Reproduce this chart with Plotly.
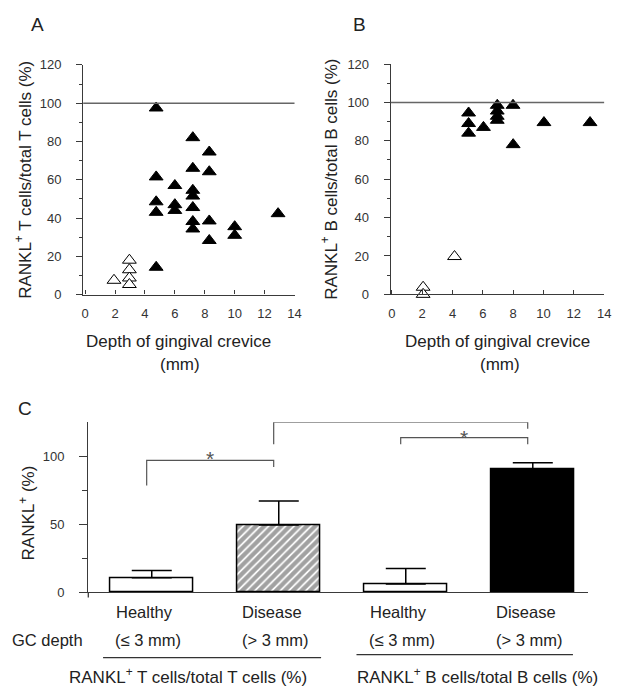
import plotly.graph_objects as go

W, H = 619, 694
FONT = "Liberation Sans, Arial, sans-serif"

# ---------------- data ----------------
# Panel A: RANKL+ T cells / total T cells (%) vs depth of gingival crevice (mm)
a_fill_x = [4.75, 4.75, 4.75, 4.75, 4.75, 6.0, 6.0, 6.0, 7.2, 7.2, 7.2, 7.2, 7.2, 7.2, 7.2,
            8.3, 8.3, 8.3, 8.3, 10.0, 10.0, 12.9]
a_fill_y = [97.5, 61.5, 48.5, 43, 14.3, 57, 47, 44, 82, 66, 54.5, 51.5, 45.5, 38.2, 34.3,
            74.5, 64.2, 38.5, 28.3, 35.5, 31, 42.3]
a_open_x = [1.93, 2.96, 2.96, 2.96, 2.96]
a_open_y = [7.5, 18, 13, 8.7, 5.3]

# Panel B: RANKL+ B cells / total B cells (%)
b_fill_x = [5.06, 5.06, 5.06, 6.04, 6.95, 6.95, 6.95, 6.95, 7.99, 8.0, 10.03, 13.07]
b_fill_y = [94.5, 89, 84, 87, 98.5, 95.5, 92.8, 90.7, 98.5, 78, 89.5, 89.5]
b_open_x = [4.13, 2.06, 2.06]
b_open_y = [19.7, 3.7, 0]

# Panel C: bar chart
c_groups = ["Healthy", "Disease", "Healthy", "Disease"]
c_depth = ["(≤ 3 mm)", "(> 3 mm)", "(≤ 3 mm)", "(> 3 mm)"]
c_values = [10.8, 49.5, 6.2, 90.4]
c_errors = [5.2, 17.5, 11.3, 4.8]
c_fill = ["white", "white", "white", "black"]
c_pattern = ["", "/", "", ""]
c_cells = ["RANKL<sup>+</sup> T cells/total T cells (%)", "RANKL<sup>+</sup> B cells/total B cells (%)"]

# significance brackets: (from bar, to bar), foot heights, top, star height
sig_pairs = [(0, 1), (1, 3), (2, 3)]
sig_left_foot = [78.5, 108.8, 108.8]
sig_top = [96.9, 124.9, 113.6]
sig_right_foot = [92.1, 120.1, 108.8]
sig_star = [103, 132.8, 118.4]

# ---------------- helpers ----------------
def PX(px):
    return px / W

def PY(py):
    return 1 - py / H

def ann(text, px, py, size=17, angle=0, color="#222", **kw):
    d = dict(text=text, x=PX(px), y=PY(py), xref="paper", yref="paper", showarrow=False,
             font=dict(size=size, color=color, family=FONT), textangle=angle,
             xanchor="center", yanchor="middle")
    d.update(kw)
    return d

AX = "#3a3a3a"

fig = go.Figure()

def tri(x, y, xa, ya, filled):
    return go.Scatter(
        x=x, y=y, mode="markers", xaxis=xa, yaxis=ya, cliponaxis=False, showlegend=False,
        hoverinfo="skip",
        marker=dict(symbol="triangle-up", size=12,
                    color="black" if filled else "white",
                    line=dict(color="black", width=1)))

fig.add_trace(tri(a_fill_x, a_fill_y, "x", "y", True))
fig.add_trace(tri(a_open_x, a_open_y, "x", "y", False))
fig.add_trace(tri(b_fill_x, b_fill_y, "x2", "y2", True))
fig.add_trace(tri(b_open_x, b_open_y, "x2", "y2", False))

fig.add_trace(go.Bar(
    x=list(range(len(c_values))), y=c_values, width=0.65, xaxis="x3", yaxis="y3",
    showlegend=False, hoverinfo="skip",
    marker=dict(color=c_fill, line=dict(color="black", width=1.5),
                pattern=dict(shape=c_pattern, fgcolor="black", bgcolor="white",
                             size=6, solidity=0.7)),
    error_y=dict(type="data", symmetric=False, array=c_errors,
                 arrayminus=[0] * len(c_errors), color="black", thickness=1.5, width=20)))

scatter_x = dict(showline=True, linecolor=AX, linewidth=1.3, ticks="inside", ticklen=4,
                 tickwidth=1.2, tickcolor=AX, dtick=2, tick0=0, showgrid=False, zeroline=False,
                 tickfont=dict(size=13, color="#333", family=FONT), ticklabelstandoff=7)
scatter_y = dict(showline=True, linecolor=AX, linewidth=1.3, ticks="outside", ticklen=6,
                 tickwidth=1.2, tickcolor=AX, dtick=20, tick0=0, range=[0, 120],
                 showgrid=False, zeroline=False,
                 minor=dict(dtick=10, tick0=0, ticks="outside", ticklen=3, tickcolor=AX, tickwidth=1),
                 tickfont=dict(size=13, color="#333", family=FONT), ticklabelstandoff=12)

fig.update_layout(
    width=W, height=H, margin=dict(l=0, r=0, t=0, b=0),
    paper_bgcolor="white", plot_bgcolor="white", bargap=0,
    xaxis=dict(scatter_x, domain=[PX(81.5), PX(296.3)], range=[-0.13, 14], anchor="y"),
    yaxis=dict(scatter_y, domain=[PY(294), PY(59.2)], anchor="x"),
    xaxis2=dict(scatter_x, domain=[PX(394.2), PX(611)], range=[-0.07, 14], anchor="y2"),
    yaxis2=dict(scatter_y, domain=[PY(293.7), PY(58.3)], anchor="x2"),
    xaxis3=dict(domain=[PX(86.7), PX(595)], range=[-0.4996, 3.4377], anchor="y3",
                showline=True, linecolor=AX, linewidth=1.3, ticks="", showticklabels=False,
                showgrid=False, zeroline=False),
    yaxis3=dict(domain=[PY(598.3), PY(424.3)], range=[0, 125], anchor="x3",
                showline=True, linecolor=AX, linewidth=1.3, ticks="outside", ticklen=8,
                tickwidth=1.2, tickcolor=AX, tickvals=[0, 50, 100],
                minor=dict(tickvals=[25, 75], ticks="outside", ticklen=5, tickcolor=AX, tickwidth=1),
                showgrid=False, zeroline=False,
                tickfont=dict(size=13, color="#333", family=FONT), ticklabelstandoff=12),
)

shapes = []
# reference lines at 100 %
for xa, ya in (("x", "y"), ("x2", "y2")):
    shapes.append(dict(type="line", xref=xa + " domain", yref=ya, x0=0, x1=1, y0=100, y1=100,
                       line=dict(color="#666", width=1.5)))
# small y-axis extension below baseline in panel C
shapes.append(dict(type="line", xref="paper", yref="paper", x0=PX(86.7), x1=PX(86.7),
                   y0=PY(598.3), y1=PY(603.5), line=dict(color=AX, width=1.3)))
# significance brackets
off = -0.04
for (i, j), lf, top, rf in zip(sig_pairs, sig_left_foot, sig_top, sig_right_foot):
    shapes.append(dict(type="path", xref="x3", yref="y3",
                       path=f"M {i+off},{lf} L {i+off},{top} L {j+off},{top} L {j+off},{rf}",
                       line=dict(color="#555", width=1.2)))
# group underlines
shapes.append(dict(type="line", xref="paper", yref="paper", x0=PX(101.7), x1=PX(323.3),
                   y0=PY(665), y1=PY(665), line=dict(color="#333", width=1.2)))
shapes.append(dict(type="line", xref="paper", yref="paper", x0=PX(359.3), x1=PX(579.3),
                   y0=PY(662), y1=PY(662), line=dict(color="#333", width=1.2)))
fig.update_layout(shapes=shapes)

anns = [
    ann("A", 35.5, 18, size=19),
    ann("B", 362, 18, size=19),
    ann("C", 22, 410, size=19),
    ann("RANKL<sup>+</sup> T cells/total T cells (%)", 21, 177, angle=-90),
    ann("RANKL<sup>+</sup> B cells/total B cells (%)", 332, 176, angle=-90),
    ann("Depth of gingival crevice", 178, 342),
    ann("(mm)", 180, 365),
    ann("Depth of gingival crevice", 503, 342),
    ann("(mm)", 505, 365),
    ann("RANKL<sup>+</sup> (%)", 24, 517, angle=-90),
    ann("GC depth", 45, 647, size=16.5),
]
for k, (g, d) in enumerate(zip(c_groups, c_depth)):
    anns.append(dict(text=g, x=k, y=PY(618.5), xref="x3", yref="paper", xshift=-7,
                     showarrow=False, font=dict(size=16.5, color="#222", family=FONT),
                     xanchor="center", yanchor="middle"))
    anns.append(dict(text=d, x=k, y=PY(647), xref="x3", yref="paper", xshift=-4,
                     showarrow=False, font=dict(size=16.5, color="#222", family=FONT),
                     xanchor="center", yanchor="middle"))
anns.append(ann(c_cells[0], 188, 684, size=17))
anns.append(ann(c_cells[1], 482, 684, size=17))
for (i, j), s in zip(sig_pairs, sig_star):
    anns.append(dict(text="*", x=(i + j) / 2 + off, y=s, xref="x3", yref="y3", yshift=-6,
                     showarrow=False, font=dict(size=21, color="#555", family=FONT),
                     xanchor="center", yanchor="middle"))
fig.update_layout(annotations=anns)

fig.write_html("out.html", config={"displayModeBar": False},
               post_script="document.body.style.margin='0';document.body.style.overflow='hidden';")
